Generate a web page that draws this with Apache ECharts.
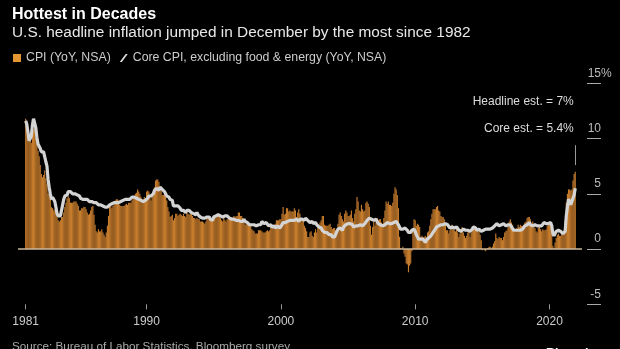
<!DOCTYPE html>
<html><head><meta charset="utf-8">
<script src="https://cdn.jsdelivr.net/npm/echarts@6/dist/echarts.min.js"></script>
<style>html,body{margin:0;padding:0;background:#000}#c{width:620px;height:349px}</style>
</head><body><div id="c"></div><script>
const startYear = 1981;
// CPI YoY (NSA), monthly Jan 1981 - Dec 2021
const cpi = [
11.8,11.4,10.5,10.0,9.8,9.6,10.8,10.8,11.0,10.1,9.6,8.9,
8.4,7.6,6.8,6.5,6.7,7.1,6.4,5.9,5.0,5.1,4.6,3.8,
3.7,3.5,3.6,3.9,3.5,2.6,2.5,2.6,2.9,2.9,3.3,3.8,
4.2,4.6,4.8,4.6,4.2,4.2,4.2,4.3,4.3,4.3,4.1,3.9,
3.5,3.5,3.7,3.7,3.8,3.8,3.6,3.3,3.1,3.2,3.5,3.8,
3.9,3.1,2.2,1.6,1.5,1.8,1.6,1.6,1.8,1.5,1.3,1.1,
1.5,2.1,3.0,3.8,3.9,3.7,3.9,4.3,4.4,4.5,4.5,4.4,
4.0,3.9,3.9,3.9,3.9,4.0,4.1,4.0,4.2,4.2,4.2,4.4,
4.7,4.8,5.0,5.1,5.4,5.2,5.0,4.7,4.3,4.5,4.7,4.6,
5.2,5.3,5.2,4.7,4.4,4.7,4.8,5.6,6.2,6.3,6.3,6.1,
5.7,5.3,4.9,4.9,5.0,4.7,4.4,3.8,3.4,2.9,3.0,3.1,
2.6,2.8,3.2,3.2,3.0,3.1,3.2,3.1,3.0,3.2,3.0,2.9,
3.3,3.2,3.1,3.2,3.2,3.0,2.8,2.8,2.7,2.8,2.7,2.7,
2.5,2.5,2.5,2.4,2.3,2.5,2.8,2.9,3.0,2.6,2.7,2.7,
2.8,2.9,2.9,3.1,3.2,3.0,2.8,2.6,2.5,2.8,2.6,2.5,
2.7,2.7,2.8,2.9,2.9,2.8,3.0,2.9,3.0,3.0,3.3,3.3,
3.0,3.0,2.8,2.5,2.2,2.3,2.2,2.2,2.2,2.1,1.8,1.7,
1.6,1.4,1.4,1.4,1.7,1.7,1.7,1.6,1.5,1.5,1.5,1.6,
1.7,1.6,1.7,2.3,2.1,2.0,2.1,2.3,2.6,2.6,2.6,2.7,
2.7,3.2,3.8,3.1,3.2,3.7,3.7,3.4,3.5,3.4,3.4,3.4,
3.7,3.5,2.9,3.3,3.6,3.2,2.7,2.7,2.6,2.1,1.9,1.6,
1.1,1.1,1.5,1.6,1.2,1.1,1.5,1.8,1.5,2.0,2.2,2.4,
2.6,3.0,3.0,2.2,2.1,2.1,2.1,2.2,2.3,2.0,1.8,1.9,
1.9,1.7,1.7,2.3,3.1,3.3,3.0,2.7,2.5,3.2,3.5,3.3,
3.0,3.0,3.1,3.5,2.8,2.5,3.2,3.6,4.7,4.3,3.5,3.4,
4.0,3.6,3.4,3.5,4.2,4.3,4.1,3.8,2.1,1.3,2.0,2.5,
2.1,2.4,2.8,2.6,2.7,2.7,2.4,2.0,2.8,3.5,4.3,4.1,
4.3,4.0,4.0,3.9,4.2,5.0,5.6,5.4,4.9,3.7,1.1,0.1,
0.0,0.2,-0.4,-0.7,-1.3,-1.4,-2.1,-1.5,-1.3,-0.2,1.8,2.7,
2.6,2.1,2.3,2.2,2.0,1.1,1.2,1.1,1.1,1.2,1.1,1.5,
1.6,2.1,2.7,3.2,3.6,3.6,3.6,3.8,3.9,3.5,3.4,3.0,
2.9,2.9,2.7,2.3,1.7,1.7,1.4,1.7,2.0,2.2,1.8,1.7,
1.6,2.0,1.5,1.1,1.4,1.8,2.0,1.5,1.2,1.0,1.2,1.5,
1.6,1.1,1.5,2.0,2.1,2.1,2.0,1.7,1.7,1.7,1.3,0.8,
-0.1,0.0,-0.1,-0.2,0.0,0.1,0.2,0.2,0.0,0.2,0.5,0.7,
1.4,1.0,0.9,1.1,1.0,1.0,0.8,1.1,1.5,1.6,1.7,2.1,
2.5,2.7,2.4,2.2,1.9,1.6,1.7,1.9,2.2,2.0,2.2,2.1,
2.1,2.2,2.4,2.5,2.8,2.9,2.9,2.7,2.3,2.5,2.2,1.9,
1.6,1.5,1.9,2.0,1.8,1.6,1.8,1.7,1.7,1.8,2.1,2.3,
2.5,2.3,1.5,0.3,0.1,0.6,1.0,1.3,1.4,1.2,1.2,1.4,
1.4,1.7,2.6,4.2,5.0,5.4,5.4,5.3,5.4,6.2,6.8,7.0
];
// Core CPI YoY (NSA), monthly Jan 1981 - Dec 2021
const core = [
11.6,11.3,10.6,9.8,9.7,10.2,11.2,11.8,11.9,11.0,10.1,9.5,
9.3,9.1,8.8,8.7,8.8,8.9,7.9,7.5,6.3,5.6,5.0,4.5,
4.7,4.6,4.3,3.8,3.2,3.0,2.9,3.0,3.5,4.0,4.5,4.8,
4.9,4.9,5.2,5.2,5.2,5.1,5.0,5.0,5.0,5.0,4.9,4.8,
4.8,4.6,4.7,4.5,4.4,4.5,4.4,4.5,4.4,4.3,4.3,4.3,
4.4,4.2,4.2,4.2,4.1,4.0,4.1,4.0,4.0,3.9,3.8,3.8,
3.8,3.8,3.9,4.0,4.0,4.1,4.0,4.2,4.2,4.2,4.3,4.2,
4.3,4.3,4.3,4.4,4.4,4.5,4.5,4.5,4.5,4.5,4.5,4.7,
4.6,4.7,4.6,4.6,4.5,4.5,4.5,4.4,4.3,4.3,4.4,4.4,
4.4,4.6,4.8,4.7,4.8,4.9,5.0,5.3,5.4,5.5,5.4,5.3,
5.6,5.6,5.4,5.3,5.2,5.0,4.8,4.7,4.7,4.5,4.5,4.4,
3.9,3.8,3.9,3.8,3.9,3.8,3.7,3.5,3.4,3.5,3.5,3.3,
3.5,3.5,3.5,3.5,3.3,3.3,3.2,3.3,3.1,3.3,3.1,3.2,
2.9,2.8,2.8,2.8,2.8,2.9,2.9,2.9,2.9,2.7,2.8,2.6,
2.9,3.0,3.0,3.1,3.1,3.0,3.0,2.9,2.9,3.0,3.0,3.0,
3.0,2.9,2.8,2.7,2.7,2.7,2.7,2.6,2.6,2.6,2.6,2.6,
2.5,2.5,2.5,2.7,2.5,2.4,2.4,2.3,2.2,2.3,2.2,2.2,
2.2,2.3,2.1,2.1,2.2,2.2,2.2,2.5,2.5,2.3,2.4,2.4,
2.4,2.1,2.1,2.2,2.0,2.1,2.1,1.9,2.0,2.1,2.1,1.9,
2.0,2.2,2.4,2.3,2.4,2.5,2.5,2.6,2.6,2.5,2.6,2.6,
2.6,2.7,2.7,2.6,2.5,2.7,2.7,2.7,2.6,2.6,2.8,2.7,
2.6,2.6,2.4,2.5,2.5,2.3,2.2,2.4,2.2,2.2,2.0,1.9,
1.9,1.7,1.7,1.5,1.6,1.5,1.5,1.3,1.2,1.3,1.1,1.1,
1.1,1.2,1.6,1.8,1.7,1.9,1.8,1.7,2.0,2.0,2.2,2.2,
2.3,2.4,2.3,2.2,2.2,2.0,2.1,2.1,2.0,2.1,2.1,2.2,
2.1,2.1,2.1,2.3,2.4,2.6,2.7,2.8,2.9,2.7,2.6,2.6,
2.7,2.7,2.5,2.3,2.2,2.2,2.2,2.1,2.1,2.2,2.3,2.4,
2.5,2.3,2.4,2.3,2.3,2.4,2.5,2.5,2.5,2.2,2.0,1.8,
1.7,1.8,1.8,1.9,1.8,1.7,1.5,1.4,1.5,1.7,1.7,1.8,
1.6,1.3,1.1,0.9,0.9,0.9,0.9,0.9,0.8,0.6,0.8,0.8,
1.0,1.1,1.2,1.3,1.5,1.6,1.8,2.0,2.0,2.1,2.2,2.2,
2.3,2.2,2.3,2.3,2.3,2.2,2.1,1.9,2.0,2.0,1.9,1.9,
1.9,2.0,1.9,1.7,1.7,1.6,1.7,1.8,1.7,1.7,1.7,1.7,
1.6,1.6,1.7,1.8,2.0,1.9,1.9,1.7,1.7,1.8,1.7,1.6,
1.6,1.7,1.8,1.8,1.7,1.8,1.8,1.8,1.9,1.9,2.0,2.1,
2.2,2.3,2.2,2.1,2.2,2.2,2.2,2.3,2.2,2.1,2.1,2.2,
2.3,2.2,2.0,1.9,1.7,1.7,1.7,1.7,1.7,1.8,1.7,1.8,
1.8,1.8,2.1,2.1,2.2,2.3,2.4,2.2,2.2,2.1,2.2,2.2,
2.2,2.1,2.0,2.1,2.0,2.1,2.2,2.4,2.4,2.3,2.3,2.3,
2.3,2.4,2.1,1.4,1.2,1.2,1.6,1.7,1.7,1.6,1.6,1.6,
1.4,1.3,1.6,3.0,3.8,4.5,4.3,4.0,4.0,4.6,4.9,5.5
];
const xTickYears = [1981, 1990, 2000, 2010, 2020];
const yTickValues = [-5, 0, 5, 10, 15];
const headlineEstLabel = 'Headline est. = 7%';
const coreEstLabel = 'Core est. = 5.4%';

const xs = cpi.map((_, i) => startYear + i / 12);
const cpiData = cpi.map((v, i) => [xs[i], v]);
const coreData = core.map((v, i) => [xs[i], v]);
const lastX = xs[xs.length - 1];

const FONT = 'Liberation Sans';
const chart = echarts.init(document.getElementById('c'), null, {renderer: 'canvas'});
chart.setOption({
  backgroundColor: '#000',
  animation: false,
  textStyle: {fontFamily: FONT},
  title: [
    {text: 'Hottest in Decades', left: 7, top: 2, textStyle: {color: '#fff', fontSize: 16, fontWeight: 'bold', fontFamily: FONT}},
    {text: 'U.S. headline inflation jumped in December by the most since 1982', left: 7, top: 20, textStyle: {color: '#e8e8e8', fontSize: 15.4, fontWeight: 'normal', fontFamily: FONT}},
    {text: 'Source: Bureau of Labor Statistics, Bloomberg survey', left: 7, top: 336, textStyle: {color: '#aaa', fontSize: 11.7, fontWeight: 'normal', fontFamily: FONT}},
    {text: 'Bloomberg', right: 3, top: 342, textStyle: {color: '#fff', fontSize: 12.5, fontWeight: 'bold', fontFamily: FONT}}
  ],
  legend: {
    left: 8, top: 47, itemWidth: 8, itemHeight: 8, itemGap: 9,
    textStyle: {color: '#ccc', fontSize: 12.3, fontFamily: FONT},
    data: [
      {name: 'CPI (YoY, NSA)', icon: 'rect', itemStyle: {color: '#e39531'}},
      {name: 'Core CPI, excluding food & energy (YoY, NSA)', icon: 'path://M0,10L2.6,10L10,0L7.4,0Z', itemStyle: {color: '#e0e0e0'}}
    ]
  },
  grid: {left: 18, right: 38, top: 83.3, bottom: 44.7, containLabel: false, outerBoundsMode: 'none'},
  xAxis: {
    type: 'value', min: 1980.427, max: 2022.42,
    axisLine: {show: false, onZero: false}, splitLine: {show: false},
    axisTick: {show: true, customValues: xTickYears, length: 5, lineStyle: {color: '#999', width: 1}},
    axisLabel: {customValues: xTickYears, color: '#ccc', fontSize: 12, margin: 11, fontFamily: FONT,
      formatter: v => String(Math.round(v))}
  },
  yAxis: {
    type: 'value', min: -5, max: 15, interval: 5, position: 'right', offset: 5,
    axisLine: {show: false}, splitLine: {show: false},
    axisTick: {show: true, length: 14, lineStyle: {color: '#aaa', width: 1}},
    axisLabel: {
      margin: 14, align: 'right', verticalAlign: 'bottom', padding: [0, 0, 4, 0],
      color: '#bbb', fontSize: 12, fontFamily: FONT,
      formatter: v => v === 15 ? '{n|15}{p|%}' : String(v),
      rich: {
        n: {align: 'left', color: '#bbb', fontSize: 12, fontFamily: FONT},
        p: {align: 'left', width: 0, color: '#bbb', fontSize: 12, fontFamily: FONT}
      }
    }
  },
  series: [
    {
      name: 'CPI (YoY, NSA)', type: 'bar', data: cpiData, barWidth: 1.15,
      itemStyle: {color: '#c67c2d'},
      markLine: {
        silent: true, symbol: 'none', label: {show: false},
        data: [
          {yAxis: 0, lineStyle: {color: '#cdb99c', width: 1.5, type: 'solid'}},
          [{coord: [lastX, 7.6], lineStyle: {color: '#999', width: 1, type: 'solid'}}, {coord: [lastX, 9.4]}]
        ]
      },
      markPoint: {
        silent: true, symbol: 'circle', symbolSize: 1, itemStyle: {color: 'rgba(0,0,0,0)'},
        label: {show: true, position: 'left', distance: 1, color: '#ddd', fontSize: 12, fontFamily: FONT, formatter: p => p.name},
        data: [
          {name: headlineEstLabel, coord: [lastX, 13.33]},
          {name: coreEstLabel, coord: [lastX, 10.93]}
        ]
      }
    },
    {
      name: 'Core CPI, excluding food & energy (YoY, NSA)', type: 'line', data: coreData,
      showSymbol: false, symbol: 'none', lineStyle: {color: '#d4d4d4', width: 3.2}, itemStyle: {color: '#e0e0e0'}, z: 3
    }
  ]
});
</script></body></html>
